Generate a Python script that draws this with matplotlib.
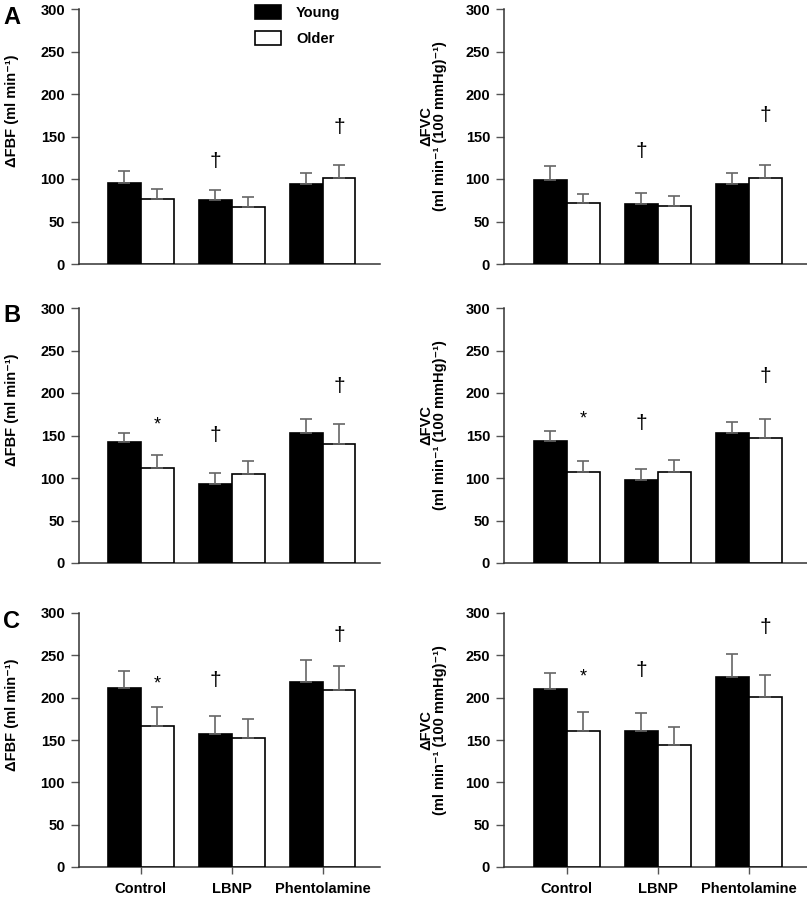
import numpy as np
import matplotlib
matplotlib.use("Agg")
from matplotlib import pyplot as plt

plt.rcParams['font.family'] = ['Liberation Sans', 'DejaVu Sans']

conditions = ['Control', 'LBNP', 'Phentolamine']
groups = ['Young', 'Older']

# panel A
fbf_a_young = [95, 75, 94]
fbf_a_young_se = [14, 12.5, 13.5]
fbf_a_older = [76, 67, 101]
fbf_a_older_se = [12.5, 11.5, 16]
fvc_a_young = [99, 71, 94]
fvc_a_young_se = [16, 12, 13]
fvc_a_older = [72, 68.5, 101]
fvc_a_older_se = [10, 11, 15]

# panel B
fbf_b_young = [142, 93, 152.5]
fbf_b_young_se = [11.5, 13, 16.5]
fbf_b_older = [112, 105, 140]
fbf_b_older_se = [15.5, 15.5, 23]
fvc_b_young = [144, 98, 153]
fvc_b_young_se = [11.5, 12.5, 13]
fvc_b_older = [107, 106.5, 147.5]
fvc_b_older_se = [13, 15, 22.5]

# panel C
fbf_c_young = [211, 157.5, 218.5]
fbf_c_young_se = [20.5, 21, 25.5]
fbf_c_older = [166, 152, 209.5]
fbf_c_older_se = [23.5, 23, 27.5]
fvc_c_young = [210, 161, 225]
fvc_c_young_se = [19, 21, 27]
fvc_c_older = [161, 144.5, 200.5]
fvc_c_older_se = [22, 21, 26]

# significance marks: (condition index, group index, symbol, y)
marks_a_fbf = [(1, 0, '†', 120), (2, 1, '†', 160)]
marks_a_fvc = [(1, 0, '†', 132), (2, 1, '†', 175)]
marks_b_fbf = [(0, 1, '*', 162), (1, 0, '†', 150), (2, 1, '†', 208)]
marks_b_fvc = [(0, 1, '*', 170), (1, 0, '†', 164), (2, 1, '†', 219)]
marks_c_fbf = [(0, 1, '*', 216), (1, 0, '†', 220), (2, 1, '†', 273)]
marks_c_fvc = [(0, 1, '*', 224), (1, 0, '†', 232), (2, 1, '†', 283)]

panels = [
    ('A', (fbf_a_young, fbf_a_young_se, fbf_a_older, fbf_a_older_se, marks_a_fbf),
          (fvc_a_young, fvc_a_young_se, fvc_a_older, fvc_a_older_se, marks_a_fvc)),
    ('B', (fbf_b_young, fbf_b_young_se, fbf_b_older, fbf_b_older_se, marks_b_fbf),
          (fvc_b_young, fvc_b_young_se, fvc_b_older, fvc_b_older_se, marks_b_fvc)),
    ('C', (fbf_c_young, fbf_c_young_se, fbf_c_older, fbf_c_older_se, marks_c_fbf),
          (fvc_c_young, fvc_c_young_se, fvc_c_older, fvc_c_older_se, marks_c_fvc)),
]

W, H = 807, 901
fig = plt.figure(figsize=(W / 100, H / 100), dpi=100)

rows_px = [(9, 264), (308, 563), (613, 867)]
w = 0.36
x = np.arange(len(conditions))
err_style = dict(ecolor='#666666', elinewidth=1.2, capsize=4, capthick=1.2)


def draw(ax, young, young_se, older, older_se, marks, bottom):
    ax.bar(x - w / 2, young, w, color='black', edgecolor='black', linewidth=1.2,
           yerr=[np.zeros(3), young_se], error_kw=err_style, label=groups[0], zorder=3)
    ax.bar(x + w / 2, older, w, color='white', edgecolor='black', linewidth=1.2,
           yerr=[np.zeros(3), older_se], error_kw=err_style, label=groups[1], zorder=3)
    for ci, gi, sym, yv in marks:
        xp = x[ci] + (w / 2 if gi else -w / 2)
        ax.text(xp, yv, sym, ha='center', va='center', fontsize=15 if sym == '†' else 13)
    ax.set_ylim(0, 300)
    ax.set_yticks(range(0, 301, 50))
    for s in ['top', 'right']:
        ax.spines[s].set_visible(False)
    for s in ['left', 'bottom']:
        ax.spines[s].set_color('#333333')
        ax.spines[s].set_linewidth(1.1)
    ax.tick_params(axis='y', length=6, width=1, color='#555555', labelsize=10.5, pad=4)
    for lab in ax.get_yticklabels():
        lab.set_fontweight('bold')
    ax.set_xticks(x)
    if bottom:
        ax.set_xticklabels(conditions, fontsize=10.5, fontweight='bold')
        ax.tick_params(axis='x', length=5, width=1, color='#555555', pad=6)
    else:
        ax.set_xticklabels([])
        ax.tick_params(axis='x', length=0)


for r, (letter, left, right) in enumerate(panels):
    top, bot = rows_px[r]
    b = (H - bot) / H
    h = (bot - top) / H
    axl = fig.add_axes([79 / W, b, 301 / W, h])
    axr = fig.add_axes([504 / W, b, 303 / W, h])
    draw(axl, *left, bottom=(r == 2))
    draw(axr, *right, bottom=(r == 2))
    axl.set_xlim(-0.68, 2.63)
    axr.set_xlim(-0.69, 2.64)

    axl.text(-0.223, 0.6, 'ΔFBF (ml min⁻¹)', transform=axl.transAxes, rotation=90,
             ha='center', va='center', fontsize=10.5, fontweight='bold')
    axr.text(-0.257, 0.54, 'ΔFVC', transform=axr.transAxes, rotation=90,
             ha='center', va='center', fontsize=10.5, fontweight='bold')
    axr.text(-0.212, 0.54, '(ml min⁻¹ (100 mmHg)⁻¹)', transform=axr.transAxes, rotation=90,
             ha='center', va='center', fontsize=10.5, fontweight='bold')

    fig.text(3 / W, 1 - (top + 8) / H, letter, fontsize=17, fontweight='bold', ha='left', va='center')

    if r == 0:
        axl.legend(loc='upper left', bbox_to_anchor=(0.585, 1.015), frameon=False,
                   prop={'weight': 'bold', 'size': 10.5}, handlelength=1.8, handleheight=1.1,
                   handletextpad=1.0, labelspacing=0.75, borderpad=0, borderaxespad=0)

fig.savefig('out.png', dpi=100)
